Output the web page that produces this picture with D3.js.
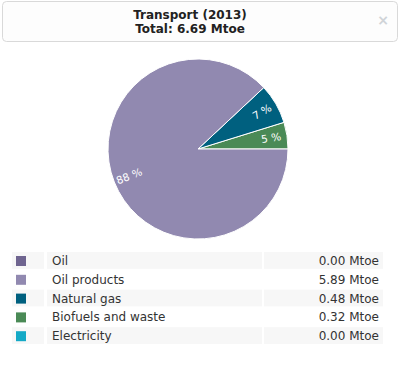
<!DOCTYPE html>
<html>
<head>
<meta charset="utf-8">
<script src="https://cdn.jsdelivr.net/npm/d3@7"></script>
<style>
  body { margin: 0; background: #fff; }
  svg text { font-family: Tahoma, "DejaVu Sans", sans-serif; }
</style>
</head>
<body>
<div id="graphic"></div>
<script>
var titleLines = ["Transport (2013)", "Total: 6.69 Mtoe"],
    categories = ["Oil", "Oil products", "Natural gas", "Biofuels and waste", "Electricity"],
    values = [0.00, 5.89, 0.48, 0.32, 0.00],
    colors = ["#6f6590", "#9189b0", "#00607f", "#4a8a56", "#14a9c6"],
    unit = "Mtoe";

var width = 400,
    height = 366;

var svg = d3.select("#graphic").append("svg")
    .attr("width", width)
    .attr("height", height);

// title box
svg.append("rect")
    .attr("x", 2.5).attr("y", 1.5)
    .attr("width", 395).attr("height", 40)
    .attr("rx", 4)
    .attr("fill", "#fdfdfd")
    .attr("stroke", "#d9d9d9");

svg.selectAll(".title")
    .data(titleLines)
    .enter().append("text")
    .attr("class", "title")
    .attr("x", 190)
    .attr("y", function (d, i) { return 19 + i * 13.5; })
    .attr("text-anchor", "middle")
    .attr("font-size", "12px")
    .attr("font-weight", "bold")
    .attr("fill", "#222")
    .text(function (d) { return d; });

svg.append("text")
    .attr("x", 383).attr("y", 25)
    .attr("text-anchor", "middle")
    .attr("font-size", "14px")
    .attr("font-weight", "bold")
    .attr("fill", "#d0d4d8")
    .text("\u00d7");

// pie
var total = d3.sum(values),
    cx = 198, cy = 149, radius = 90;

var data = categories.map(function (c, i) {
    return { name: c, value: values[i], color: colors[i] };
});

// slices run counter-clockwise from 3 o'clock, last category first
var pie = d3.pie()
    .sort(null)
    .value(function (d) { return d.value; })
    .startAngle(Math.PI / 2)
    .endAngle(Math.PI / 2 - 2 * Math.PI);

var arcs = pie(data.slice().reverse()).filter(function (d) { return d.data.value > 0; });

var arc = d3.arc().innerRadius(0).outerRadius(radius);

var g = svg.append("g")
    .attr("transform", "translate(" + cx + "," + cy + ")");

g.selectAll("path")
    .data(arcs)
    .enter().append("path")
    .attr("d", arc)
    .attr("fill", function (d) { return d.data.color; })
    .attr("stroke", "#fff")
    .attr("stroke-width", 1);

var labelR = 74;
g.selectAll(".plabel")
    .data(arcs)
    .enter().append("text")
    .attr("class", "plabel")
    .attr("transform", function (d) {
        var a = (d.startAngle + d.endAngle) / 2; // d3 angle: 0 at top, clockwise
        var x = Math.sin(a) * labelR,
            y = -Math.cos(a) * labelR;
        var deg = a * 180 / Math.PI - 90;
        while (deg > 90) deg -= 180;
        while (deg < -90) deg += 180;
        return "translate(" + x + "," + y + ") rotate(" + deg + ")";
    })
    .attr("text-anchor", "middle")
    .attr("dy", "0.35em")
    .attr("font-size", "10.5px")
    .attr("fill", "#fff")
    .text(function (d) { return Math.round(d.data.value / total * 100) + " %"; });

// legend table
var rowH = 18.8, legendTop = 251;
var rows = svg.selectAll(".row")
    .data(data)
    .enter().append("g")
    .attr("class", "row")
    .attr("transform", function (d, i) { return "translate(0," + (legendTop + i * rowH) + ")"; });

var cells = [[12, 32], [47, 215], [264, 119]];
rows.each(function (d, i) {
    var r = d3.select(this);
    if (i % 2 === 0) {
        cells.forEach(function (c) {
            r.append("rect")
                .attr("x", c[0]).attr("y", 1)
                .attr("width", c[1]).attr("height", rowH - 2)
                .attr("fill", "#f7f7f7");
        });
    }
});

rows.append("rect")
    .attr("x", 16).attr("y", 5)
    .attr("width", 10).attr("height", 10)
    .attr("fill", function (d) { return d.color; });

rows.append("text")
    .attr("x", 52).attr("y", 14)
    .attr("font-size", "12px")
    .attr("fill", "#333")
    .text(function (d) { return d.name; });

rows.append("text")
    .attr("x", 379).attr("y", 14)
    .attr("text-anchor", "end")
    .attr("font-size", "12px")
    .attr("fill", "#333")
    .text(function (d) { return d3.format(".2f")(d.value) + " " + unit; });
</script>
</body>
</html>
